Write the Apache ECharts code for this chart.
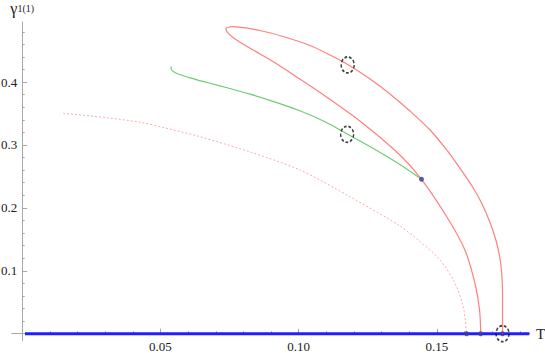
<!DOCTYPE html>
<html><head><meta charset="utf-8">
<script src="https://cdn.jsdelivr.net/npm/echarts@6/dist/echarts.min.js"></script>
<style>html,body{margin:0;padding:0;background:#fff}#c{width:545px;height:353px}</style>
</head><body><div id="c"></div>
<script>
// ---- data (T, gamma) ----
const xMajorTicks = [0.05, 0.10, 0.15];
const xMinorTicks = [0.01,0.02,0.03,0.04,0.06,0.07,0.08,0.09,0.11,0.12,0.13,0.14,0.16,0.17,0.18];
const yMajorTicks = [0.1, 0.2, 0.3, 0.4];
const yMinorTicks = [0.02,0.04,0.06,0.08,0.12,0.14,0.16,0.18,0.22,0.24,0.26,0.28,0.32,0.34,0.36,0.38,0.42,0.44,0.46,0.48];

const baseLine = [[0.001, 0], [0.1834, 0]];

const redLoop = [
  [0.1658, 0], [0.1654, 0.0377], [0.1637, 0.0806], [0.1601, 0.1331], [0.1536, 0.1855],
  [0.1444, 0.2455], [0.1366, 0.2841], [0.1221, 0.3382], [0.1077, 0.3835], [0.0979, 0.4121],
  [0.0921, 0.4288], [0.0860, 0.4447], [0.0798, 0.4606], [0.0762, 0.4709], [0.0746, 0.4773],
  [0.0739, 0.4812], [0.0737, 0.4844], [0.0740, 0.4863], [0.0748, 0.4876], [0.0758, 0.4881],
  [0.0775, 0.4879], [0.0860, 0.4820], [0.0943, 0.4725], [0.1041, 0.4582], [0.1113, 0.4431],
  [0.1177, 0.4280], [0.1258, 0.4049], [0.1330, 0.3811], [0.1402, 0.3541], [0.1475, 0.3238],
  [0.1535, 0.2921], [0.1583, 0.2631], [0.1631, 0.2316], [0.1663, 0.2062], [0.1691, 0.1776],
  [0.1713, 0.1490], [0.1728, 0.1188], [0.1735, 0.0901], [0.1737, 0.0663], [0.1737, 0.0377],
  [0.1737, 0]
];

const greenCurve = [
  [0.0538, 0.4248], [0.0540, 0.4192], [0.0552, 0.4153], [0.0578, 0.4108], [0.0607, 0.4068],
  [0.0679, 0.3981], [0.0751, 0.3898], [0.0824, 0.3808], [0.0896, 0.3709], [0.1004, 0.3544],
  [0.1095, 0.3369], [0.1175, 0.3175], [0.1282, 0.2913], [0.1366, 0.2690], [0.1444, 0.2455]
];

const dottedCurve = [
  [0.0148, 0.3504], [0.0305, 0.3434], [0.0426, 0.3361], [0.0528, 0.3259], [0.0643, 0.3132],
  [0.0824, 0.2889], [0.1004, 0.2603], [0.1185, 0.2178], [0.1366, 0.1712], [0.1438, 0.1466],
  [0.1511, 0.1172], [0.1565, 0.0801], [0.1595, 0.0429], [0.1607, 0]
];

const dotPoints = [[0.1444, 0.2455], [0.1607, 0], [0.1658, 0], [0.1737, 0]];
const circlePoints = [[0.1177, 0.4272], [0.1175, 0.317], [0.1737, 0]];

const X_MIN = -0.0038, X_MAX = 0.1836, Y_MIN = -0.0111, Y_MAX = 0.4955;
const font = 'Liberation Serif';
const axisGray = '#a8a8a8';

const chart = echarts.init(document.getElementById('c'), null, {renderer: 'svg'});
chart.setOption({
  animation: false,
  backgroundColor: '#fff',
  textStyle: {fontFamily: font},
  grid: {left: 11.7, right: 15.1, top: 22, bottom: 12.3, containLabel: false, outerBoundsMode: 'none'},
  xAxis: [{
    type: 'value', min: X_MIN, max: X_MAX,
    axisLine: {show: true, onZero: true, lineStyle: {color: axisGray, width: 1}},
    axisTick: {show: true, inside: true, length: 5, customValues: xMajorTicks, lineStyle: {color: axisGray}},
    axisLabel: {customValues: xMajorTicks, formatter: v => v.toFixed(2), margin: -1,
      fontFamily: font, fontSize: 13, color: '#222'},
    splitLine: {show: false},
    name: 'T', nameLocation: 'end', nameGap: 6,
    nameTextStyle: {fontFamily: font, fontSize: 15, color: '#222', verticalAlign: 'middle'}
  }, {
    type: 'value', min: X_MIN, max: X_MAX, position: 'bottom', offset: 0,
    axisLine: {show: false, onZero: true},
    axisTick: {show: true, inside: true, length: 2.5, customValues: xMinorTicks, lineStyle: {color: axisGray}},
    axisLabel: {show: false}, splitLine: {show: false}
  }],
  yAxis: [{
    type: 'value', min: Y_MIN, max: Y_MAX,
    axisLine: {show: true, onZero: true, lineStyle: {color: axisGray, width: 1}},
    axisTick: {show: true, inside: true, length: 5, customValues: yMajorTicks, lineStyle: {color: axisGray}},
    axisLabel: {customValues: yMajorTicks, formatter: v => v.toFixed(1), margin: -5.6,
      fontFamily: font, fontSize: 13, color: '#222'},
    splitLine: {show: false},
    name: '{g|γ}{s|1(1)}', nameLocation: 'end', nameGap: 6,
    nameTextStyle: {
      fontFamily: font,
      rich: {
        g: {fontFamily: font, fontSize: 16, color: '#222'},
        s: {fontFamily: font, fontSize: 10, color: '#222'}
      }
    }
  }, {
    type: 'value', min: Y_MIN, max: Y_MAX, position: 'left', offset: 0,
    axisLine: {show: false, onZero: true},
    axisTick: {show: true, inside: true, length: 2.5, customValues: yMinorTicks, lineStyle: {color: axisGray}},
    axisLabel: {show: false}, splitLine: {show: false}
  }],
  series: [
    {type: 'line', data: baseLine, showSymbol: false, lineStyle: {color: '#1f1fff', width: 3}, z: 2},
    {type: 'line', data: dottedCurve, showSymbol: false, smooth: 0.3,
      lineStyle: {color: '#ffa8a8', width: 1, type: [2, 2]}, z: 3},
    {type: 'line', data: redLoop, showSymbol: false, smooth: 0.3,
      lineStyle: {color: '#ff7f7f', width: 1.2}, z: 3},
    {type: 'line', data: greenCurve, showSymbol: false, smooth: 0.3,
      lineStyle: {color: '#70cc70', width: 1.2}, z: 3},
    {type: 'scatter', data: dotPoints, symbol: 'circle', symbolSize: 5,
      itemStyle: {color: '#3a3a98'}, z: 5},
    {type: 'scatter', data: circlePoints, symbol: 'circle', symbolSize: [13, 16],
      itemStyle: {color: 'rgba(0,0,0,0)', borderColor: '#111', borderWidth: 1.6, borderType: [3, 2]}, z: 6}
  ]
});
</script></body></html>
